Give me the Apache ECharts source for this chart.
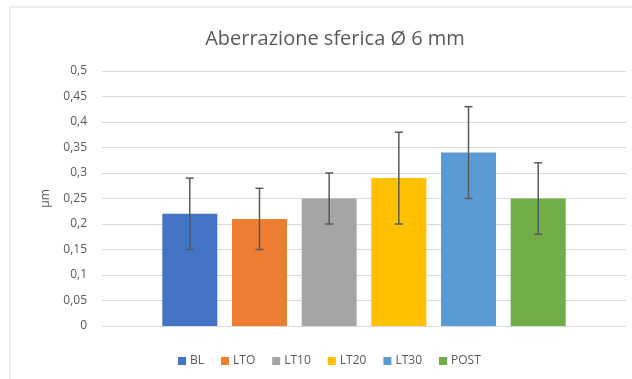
<!DOCTYPE html>
<html>
<head>
<meta charset="utf-8">
<style>
  html, body { margin: 0; padding: 0; background: #fff; }
  #chart { width: 632px; height: 379px; }
</style>
<script src="https://cdn.jsdelivr.net/npm/echarts@6/dist/echarts.min.js"></script>
</head>
<body>
<div id="chart"></div>
<script>
// serie (una barra ciascuna) e barre d'errore
const seriesNames = ["BL", "LTO", "LT10", "LT20", "LT30", "POST"];
const xPos = [1, 2, 3, 4, 5, 6];
const values = [0.22, 0.21, 0.25, 0.29, 0.34, 0.25];
const errLow = [0.15, 0.15, 0.20, 0.20, 0.25, 0.18];
const errHigh = [0.29, 0.27, 0.30, 0.38, 0.43, 0.32];
const yTicks = [0, 0.05, 0.1, 0.15, 0.2, 0.25, 0.3, 0.35, 0.4, 0.45, 0.5];

const COLORS = ["#4472c4", "#ed7d31", "#a5a5a5", "#ffc000", "#5b9bd5", "#70ad47"];
const FONT = '"Open Sans", "Noto Sans", sans-serif';
const TEXT = "#595959";

const fmt = v => String(+v.toFixed(2)).replace(".", ",");

const barSeries = seriesNames.map((name, i) => ({
  name,
  type: "bar",
  barWidth: 55,
  barGap: "-100%",
  itemStyle: { color: COLORS[i] },
  data: [[xPos[i], values[i]]],
  z: 2,
}));

const errorSeries = {
  type: "custom",
  name: "err",
  z: 5,
  silent: true,
  data: xPos.map((x, i) => [x, errLow[i], errHigh[i]]),
  renderItem(params, api) {
    const x = api.value(0);
    const lo = api.coord([x, api.value(1)]);
    const hi = api.coord([x, api.value(2)]);
    const cap = 4;
    const style = { stroke: "#595959", lineWidth: 1.5, fill: null };
    return {
      type: "group",
      children: [
        { type: "line", shape: { x1: lo[0], y1: lo[1], x2: hi[0], y2: hi[1] }, style },
        { type: "line", shape: { x1: hi[0] - cap, y1: hi[1], x2: hi[0] + cap, y2: hi[1] }, style },
        { type: "line", shape: { x1: lo[0] - cap, y1: lo[1], x2: lo[0] + cap, y2: lo[1] }, style },
      ],
    };
  },
};

const chart = echarts.init(document.getElementById("chart"), null, { renderer: "canvas" });
chart.setOption({
  animation: false,
  backgroundColor: "#fff",
  textStyle: { fontFamily: FONT },
  graphic: [{
    type: "rect",
    shape: { x: 10, y: 7, width: 640, height: 400 },
    style: { fill: null, stroke: "#d9d9d9", lineWidth: 1 },
    silent: true,
  }],
  title: {
    text: "Aberrazione sferica Ø 6 mm",
    left: 330,
    textAlign: "center",
    top: 24,
    textStyle: { fontFamily: FONT, fontSize: 20, fontWeight: "normal", color: TEXT },
  },
  legend: {
    bottom: 7,
    left: 173,
    itemWidth: 8,
    itemHeight: 8,
    itemGap: 17,
    icon: "rect",
    data: seriesNames,
    textStyle: { fontFamily: FONT, fontSize: 12, color: TEXT, padding: [0, 0, 0, -1] },
  },
  grid: { left: 102, right: 6, top: 71, bottom: 53, containLabel: false },
  xAxis: {
    type: "value",
    min: -0.26,
    max: 7.26,
    show: false,
  },
  yAxis: {
    type: "value",
    min: yTicks[0],
    max: yTicks[yTicks.length - 1],
    interval: 0.05,
    name: "µm",
    nameLocation: "middle",
    nameGap: 50,
    nameTextStyle: { fontFamily: FONT, fontSize: 12, color: TEXT },
    axisLine: { show: false },
    axisTick: { show: false },
    axisLabel: { fontFamily: FONT, fontSize: 12, color: TEXT, margin: 15, formatter: fmt },
    splitLine: { lineStyle: { color: "#d9d9d9", width: 1 } },
  },
  series: [...barSeries, errorSeries],
});
</script>
</body>
</html>
